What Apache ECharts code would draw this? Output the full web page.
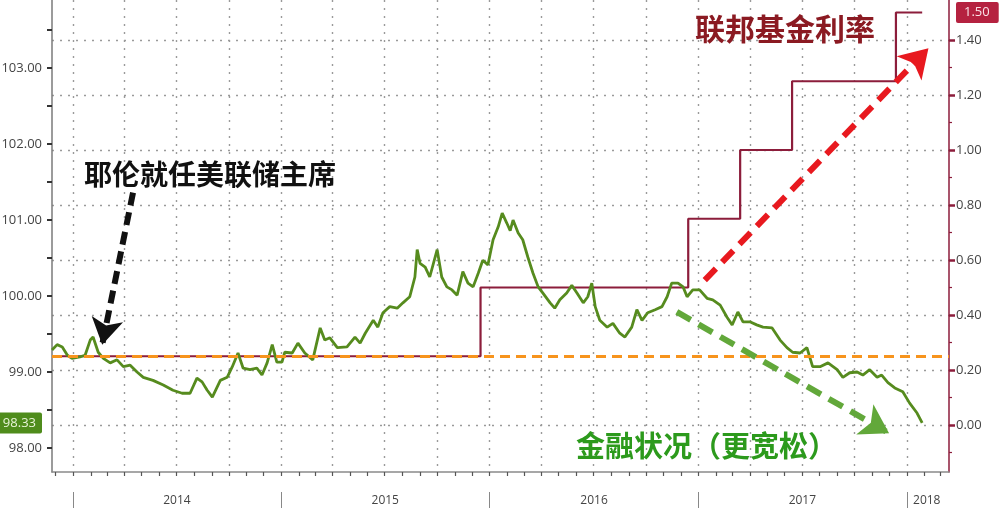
<!DOCTYPE html>
<html><head><meta charset="utf-8">
<script src="https://cdn.jsdelivr.net/npm/echarts@6/dist/echarts.min.js"></script>
<style>html,body{margin:0;padding:0;background:#fff}#c{width:1000px;height:510px}</style>
</head><body><div id="c"></div>
<script>
// ---------- data ----------
const fciDates = [
'2013-11-25','2013-12-04','2013-12-13','2013-12-22','2013-12-30',
'2014-01-13','2014-01-22','2014-01-31','2014-02-05','2014-02-14','2014-02-23','2014-03-07','2014-03-19','2014-03-30','2014-04-11','2014-04-23','2014-05-04','2014-05-21','2014-06-08','2014-06-25','2014-07-11','2014-07-25','2014-08-06','2014-08-15','2014-08-24','2014-09-02','2014-09-16','2014-09-28','2014-10-07','2014-10-17','2014-10-26','2014-11-07','2014-11-19','2014-11-28','2014-12-07','2014-12-16','2014-12-24',
'2015-01-02','2015-01-07','2015-01-20','2015-01-30','2015-02-11','2015-02-25','2015-03-10','2015-03-18','2015-03-27','2015-04-09','2015-04-26','2015-05-10','2015-05-19','2015-05-28','2015-06-11','2015-06-19','2015-06-28','2015-07-10','2015-07-23','2015-08-02','2015-08-14','2015-08-23','2015-08-27','2015-09-01','2015-09-10','2015-09-18','2015-10-01','2015-10-09','2015-10-18','2015-10-27','2015-11-05','2015-11-15','2015-11-24','2015-12-03','2015-12-12','2015-12-20','2015-12-29',
'2016-01-07','2016-01-16','2016-01-23','2016-01-31','2016-02-06','2016-02-11','2016-02-20','2016-02-28','2016-03-08','2016-03-17','2016-03-26','2016-04-03','2016-04-16','2016-04-24','2016-05-03','2016-05-15','2016-05-24','2016-06-02','2016-06-13','2016-06-21','2016-06-28','2016-07-04','2016-07-12','2016-07-25','2016-08-04','2016-08-16','2016-08-25','2016-09-06','2016-09-15','2016-09-24','2016-10-04','2016-10-17','2016-10-29','2016-11-07','2016-11-15','2016-11-26','2016-12-05','2016-12-12','2016-12-22',
'2017-01-03','2017-01-16','2017-01-26','2017-02-08','2017-02-20','2017-03-01','2017-03-11','2017-03-20','2017-04-01','2017-04-13','2017-04-24','2017-05-10','2017-05-24','2017-06-05','2017-06-15','2017-06-28','2017-07-10','2017-07-20','2017-08-02','2017-08-16','2017-09-01','2017-09-11','2017-09-23','2017-10-06','2017-10-16','2017-10-28','2017-11-10','2017-11-18','2017-11-29','2017-12-11','2017-12-25',
'2018-01-06','2018-01-19','2018-01-28'
];
const fciValues = [
99.29,99.36,99.33,99.22,99.18,
99.20,99.22,99.42,99.46,99.26,99.18,99.12,99.16,99.07,99.09,99.00,98.93,98.89,98.83,98.76,98.72,98.72,98.92,98.87,98.76,98.67,98.89,98.93,99.07,99.25,99.05,99.03,99.05,98.96,99.12,99.36,99.13,
99.13,99.26,99.25,99.38,99.25,99.16,99.58,99.42,99.45,99.32,99.33,99.46,99.38,99.51,99.68,99.59,99.78,99.86,99.84,99.91,99.99,100.25,100.61,100.43,100.38,100.25,100.61,100.25,100.12,100.08,100.01,100.32,100.17,100.12,100.30,100.47,100.41,
100.74,100.91,101.09,100.96,100.86,101.00,100.83,100.74,100.51,100.30,100.12,100.04,99.91,99.84,99.95,100.04,100.14,100.04,99.91,99.99,100.17,99.86,99.68,99.59,99.64,99.51,99.46,99.59,99.82,99.68,99.78,99.82,99.86,99.99,100.17,100.17,100.12,99.99,100.08,
100.08,99.97,99.95,99.88,99.72,99.62,99.79,99.66,99.66,99.62,99.59,99.58,99.42,99.32,99.26,99.25,99.32,99.07,99.07,99.12,99.03,98.93,98.99,99.00,98.96,99.03,98.93,98.96,98.86,98.79,98.74,
98.59,98.46,98.33
];
const fedDates  = ['2013-11-25','2015-12-16','2016-12-14','2017-03-15','2017-06-14','2017-12-13','2018-01-28'];
const fedValues = [0.25, 0.50, 0.75, 1.00, 1.25, 1.50, 1.50];
const yellenRate = 0.25;
const leftLabelValues  = [98, 99, 100, 101, 102, 103];
const rightLabelValues = [0.00, 0.20, 0.40, 0.60, 0.80, 1.00, 1.20, 1.40];
const yearLabels = ['2014', '2015', '2016', '2017', '2018'];
const lastFci = 98.33;
const lastFed = 1.50;
const textYellen = '耶伦就任美联储主席';
const textFed = '联邦基金利率';
const textFci = '金融状况（更宽松）';
// annotation arrows (data space)
const arrowYellen = [['2014-04-16', 101.36], ['2014-02-21', 99.36]];
const arrowFed    = [['2017-01-12', 0.527], ['2018-02-08', 1.37]];
const arrowFci    = [['2016-11-24', 0.411], ['2017-12-01', -0.03]];

// ---------- helpers ----------
const T = s => { const [y, m, d] = s.split('-').map(Number); return new Date(y, m - 1, d).getTime(); };
const X_MIN = T('2013-11-25'), X_MAX = T('2018-03-16');
const monthTicks = [];
for (let y = 2013, m = 11; y < 2018 || (y === 2018 && m <= 2);) {
  monthTicks.push(new Date(y, m, 1).getTime());
  m++; if (m > 11) { m = 0; y++; }
}
const quarterTicks = monthTicks.filter(t => new Date(t).getMonth() % 3 === 0);
const yearStarts = yearLabels.map(y => new Date(+y, 0, 1).getTime());
const yearMids = yearLabels.map((y, i) => i < yearLabels.length - 1 ? new Date(+y, 6, 2).getTime() : new Date(+y, 1, 5).getTime());
const leftMinor = []; for (let v = 98; v <= 103.5 + 1e-9; v += 0.5) leftMinor.push(+v.toFixed(1));
const rightMinor = []; for (let v = -0.1; v <= 1.35; v += 0.2) rightMinor.push(+v.toFixed(1));

const fciData = fciDates.map((d, i) => [T(d), fciValues[i]]);
const fedData = fedDates.map((d, i) => [T(d), fedValues[i]]);
const arrowData = a => [[{ coord: [T(a[0][0]), a[0][1]], symbol: 'none' }, { coord: [T(a[1][0]), a[1][1]], symbol: 'arrow' }]];

const FONT = '"Open Sans", "Liberation Sans", sans-serif';
const CJK = '"Noto Sans CJK SC", sans-serif';
const gridLine = { color: '#9a9a9a', width: 1.4, type: [2, 6] };

const chart = echarts.init(document.getElementById('c'), null, { renderer: 'canvas' });
chart.setOption({
  animation: false,
  backgroundColor: '#ffffff',
  grid: { left: 52, right: 51, top: 0, bottom: 38, containLabel: false, outerBoundsMode: 'none' },
  xAxis: [
    { type: 'value', min: X_MIN, max: X_MAX, position: 'bottom',
      axisLine: { show: true, onZero: false, lineStyle: { color: '#8a8a8a', width: 1.5 } },
      axisTick: { show: true, customValues: monthTicks, length: 4, lineStyle: { color: '#555', width: 1.2 } },
      axisLabel: { show: false }, splitLine: { show: false } },
    { type: 'value', min: X_MIN, max: X_MAX, position: 'bottom', offset: 20,
      axisLine: { show: false, onZero: false },
      axisTick: { show: true, customValues: yearStarts, length: 16, lineStyle: { color: '#888', width: 1 } },
      axisLabel: { show: true, customValues: yearMids, margin: 3, fontSize: 12, color: '#444', fontFamily: FONT,
        formatter: v => String(new Date(v).getFullYear()) },
      splitLine: { show: false } },
    { type: 'value', min: X_MIN, max: X_MAX, position: 'bottom',
      axisLine: { show: false, onZero: false }, axisTick: { show: false, customValues: quarterTicks },
      axisLabel: { show: false }, splitLine: { show: true, lineStyle: gridLine } }
  ],
  yAxis: [
    { type: 'value', position: 'left', min: 97.684, max: 103.895,
      axisLine: { show: true, onZero: false, lineStyle: { color: '#7a7a7a', width: 1.5 } },
      axisTick: { show: true, customValues: leftMinor, length: 5, lineStyle: { color: '#333', width: 2 } },
      axisLabel: { show: true, customValues: leftLabelValues.concat([lastFci]), margin: 10, fontSize: 13, color: '#444', fontFamily: FONT,
        formatter: v => Math.abs(v - lastFci) < 1e-6 ? '{tag|' + lastFci.toFixed(2) + '}' : v.toFixed(2),
        rich: { tag: { backgroundColor: '#4f8c1c', color: '#e8f4d8', fontSize: 13, fontFamily: FONT, padding: [4, 6, 4, 12], borderRadius: 2 } } },
      splitLine: { show: false } },
    { type: 'value', position: 'right', min: -0.171, max: 1.5455,
      axisLine: { show: true, onZero: false, lineStyle: { color: '#8c1d3b', width: 1.5 } },
      axisTick: { show: true, customValues: rightLabelValues, length: 6, lineStyle: { color: '#8c1d3b', width: 2.5 } },
      axisLabel: { show: true, customValues: rightLabelValues.concat([lastFed]), margin: 7, fontSize: 13, color: '#444', fontFamily: FONT,
        formatter: v => Math.abs(v - lastFed) < 1e-6 ? '{tag|' + lastFed.toFixed(2) + '}' : v.toFixed(2),
        rich: { tag: { backgroundColor: '#b52240', color: '#fbe3e8', fontSize: 13, fontFamily: FONT, padding: [4, 9, 4, 8], borderRadius: 2 } } },
      splitLine: { show: true, lineStyle: gridLine } },
    { type: 'value', position: 'right', min: -0.171, max: 1.5455,
      axisLine: { show: false, onZero: false },
      axisTick: { show: true, customValues: rightMinor, length: 3, lineStyle: { color: '#8c1d3b', width: 1.2 } },
      axisLabel: { show: false }, splitLine: { show: false } }
  ],
  series: [
    { type: 'line', name: 'fed', xAxisIndex: 0, yAxisIndex: 1, data: fedData, step: 'end',
      showSymbol: false, symbol: 'none', z: 3,
      lineStyle: { color: '#8c1d3b', width: 2.2 },
      markLine: { silent: true, animation: false, precision: 4, z: 6,
        label: { show: false },
        data: [
          [{ coord: [X_MIN, yellenRate], symbol: 'none' }, { coord: [X_MAX, yellenRate], symbol: 'none' }]
        ],
        lineStyle: { color: '#f7941d', width: 3, type: [10, 6] } } },
    { type: 'line', name: 'fci', xAxisIndex: 0, yAxisIndex: 0, data: fciData,
      showSymbol: false, symbol: 'none', z: 4,
      lineStyle: { color: '#568b1e', width: 2.8 } },
    { type: 'line', name: 'arrowBlack', xAxisIndex: 0, yAxisIndex: 0, data: [], z: 7,
      markLine: { silent: true, animation: false, z: 8, symbolSize: [24, 26], label: { show: false },
        lineStyle: { color: '#111', width: 6, type: [13, 7], cap: 'butt' }, data: arrowData(arrowYellen) } },
    { type: 'line', name: 'arrowRed', xAxisIndex: 0, yAxisIndex: 1, data: [], z: 7,
      markLine: { silent: true, animation: false, z: 8, symbolSize: [26, 28], label: { show: false },
        lineStyle: { color: '#e8191f', width: 6, type: [16, 9], cap: 'butt' }, data: arrowData(arrowFed) } },
    { type: 'line', name: 'arrowGreen', xAxisIndex: 0, yAxisIndex: 1, data: [], z: 7,
      markLine: { silent: true, animation: false, z: 8, symbolSize: [26, 28], label: { show: false },
        lineStyle: { color: '#62a83a', width: 6, type: [16, 9], cap: 'butt' }, data: arrowData(arrowFci) } }
  ],
  graphic: [
    { type: 'text', x: 84, y: 174, z: 20, style: { text: textYellen, font: 'bold 28px ' + CJK, fill: '#111', verticalAlign: 'middle' } },
    { type: 'text', x: 695, y: 29, z: 20, style: { text: textFed, font: 'bold 30px ' + CJK, fill: '#8b1a22', verticalAlign: 'middle' } },
    { type: 'text', x: 576, y: 446, z: 20, style: { text: textFci, font: 'bold 29px ' + CJK, fill: '#2c9a1c', verticalAlign: 'middle' } }
  ]
});
</script>
</body></html>
